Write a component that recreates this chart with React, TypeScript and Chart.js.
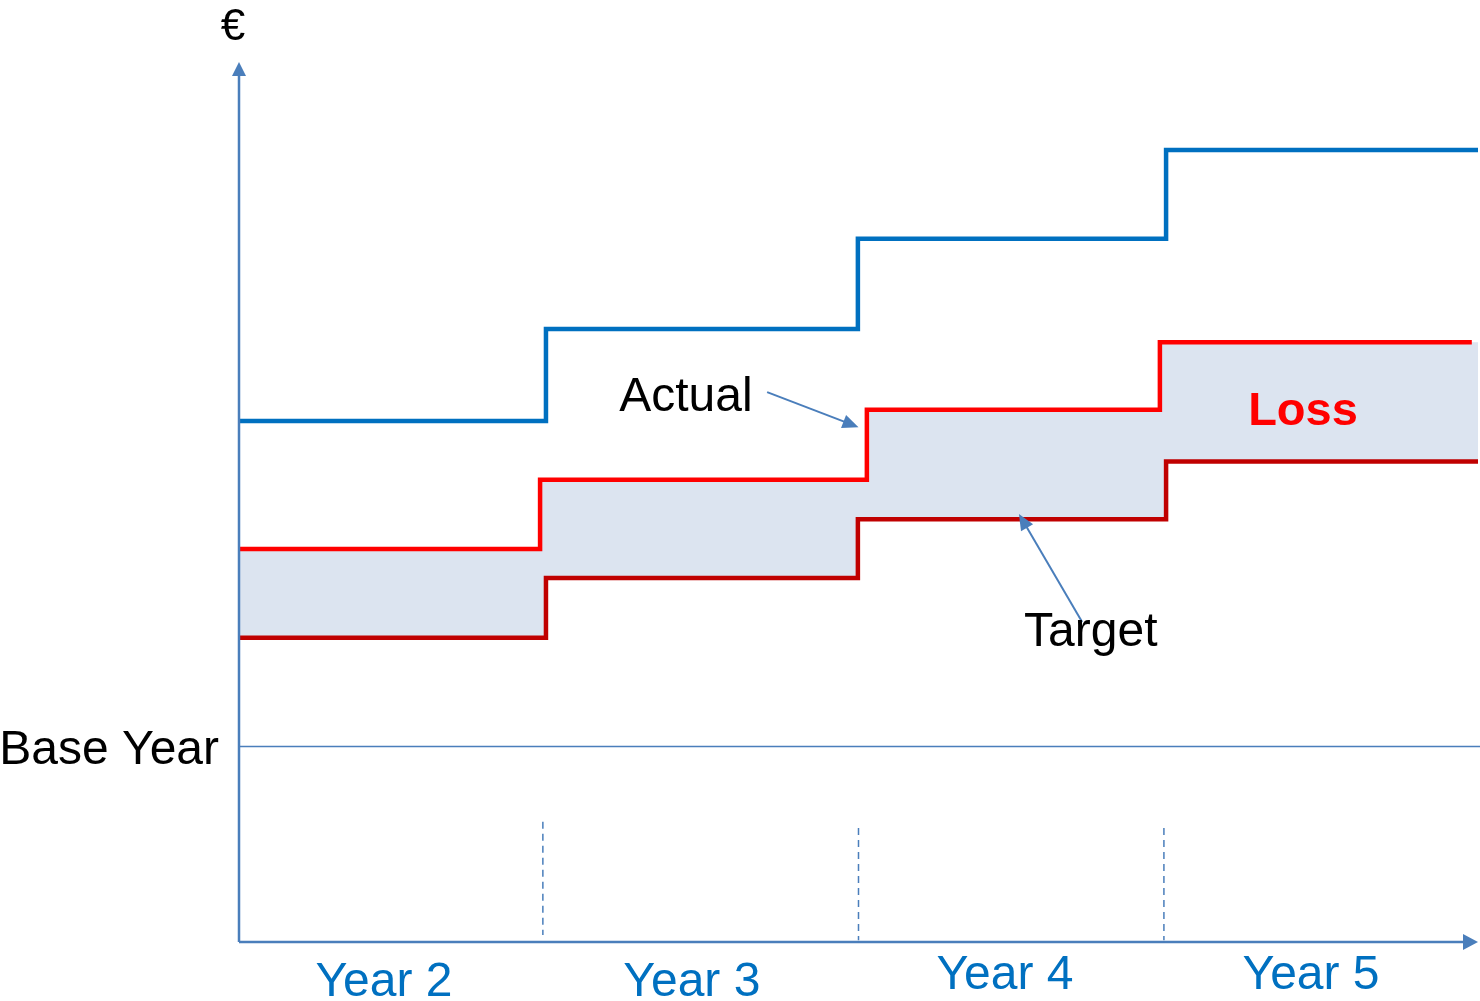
import React, { useEffect, useRef } from "react";
import { Chart, registerables } from "chart.js";

Chart.register(...registerables);

// Year segments along the horizontal axis (0 = start of Year 2, 4 = end of Year 5)
const yearLabels = ["Year 2", "Year 3", "Year 4", "Year 5"];

// Step positions (x) and levels (y) for each series
const upperSteps = [0, 0.991, 1.998, 2.993, 4];
const upperValues = [59.4, 69.9, 80.2, 90.3, 90.3];

const actualSteps = [0, 0.972, 2.027, 2.973, 3.98];
const actualValues = [44.8, 52.7, 60.7, 68.4, 68.4];

const targetSteps = [0, 0.991, 1.998, 2.993, 4];
const targetValues = [34.7, 41.5, 48.2, 54.8, 54.8];

// Shaded loss band: same levels as Actual, running to the right edge
const bandSteps = [0, 0.972, 2.027, 2.973, 4];
const bandValues = [44.8, 52.7, 60.7, 68.4, 68.4];

const baseYearValue = 22.3;

// Dashed year separators: x and vertical extent
const dividerX = [0.981, 2.0, 2.986];
const dividerTop = [13.7, 13.0, 13.0];
const dividerBottom = [0.8, 0.2, 0.2];

const FONT = '"Liberation Sans", Arial, Helvetica, sans-serif';
const AXIS_COLOR = "#4A7EBB";
const BLUE = "#0070C0";
const RED = "#FF0000";
const DARK_RED = "#C00000";
const BAND = "#DCE4F0";

const toPoints = (xs: number[], ys: number[]) => xs.map((x, i) => ({ x, y: ys[i] }));

function arrowHead(ctx: CanvasRenderingContext2D, fx: number, fy: number, tx: number, ty: number, len: number, half: number) {
  const a = Math.atan2(ty - fy, tx - fx);
  const bx = tx - len * Math.cos(a);
  const by = ty - len * Math.sin(a);
  ctx.beginPath();
  ctx.moveTo(tx, ty);
  ctx.lineTo(bx + half * Math.sin(a), by - half * Math.cos(a));
  ctx.lineTo(bx - half * Math.sin(a), by + half * Math.cos(a));
  ctx.closePath();
  ctx.fill();
}

function arrow(ctx: CanvasRenderingContext2D, fx: number, fy: number, tx: number, ty: number, width: number, len: number, half: number) {
  const a = Math.atan2(ty - fy, tx - fx);
  ctx.lineWidth = width;
  ctx.beginPath();
  ctx.moveTo(fx, fy);
  ctx.lineTo(tx - (len - 2) * Math.cos(a), ty - (len - 2) * Math.sin(a));
  ctx.stroke();
  arrowHead(ctx, fx, fy, tx, ty, len, half);
}

const diagramPlugin = {
  id: "diagramDecor",
  beforeDatasetsDraw(chart: any) {
    const { ctx, chartArea, scales } = chart;
    const ys = scales.y;
    ctx.save();
    // Base year reference line
    const by = ys.getPixelForValue(baseYearValue);
    ctx.strokeStyle = AXIS_COLOR;
    ctx.lineWidth = 1.6;
    ctx.beginPath();
    ctx.moveTo(chartArea.left, by);
    ctx.lineTo(chart.width, by);
    ctx.stroke();
    ctx.restore();
  },
  afterDatasetsDraw(chart: any) {
    const { ctx, chartArea, scales } = chart;
    const xs = scales.x;
    const ys = scales.y;
    const px = (v: number) => xs.getPixelForValue(v);
    const py = (v: number) => ys.getPixelForValue(v);
    const left = chartArea.left;
    const bottom = chartArea.bottom;
    ctx.save();

    // Axes with arrowheads
    ctx.strokeStyle = AXIS_COLOR;
    ctx.fillStyle = AXIS_COLOR;
    ctx.lineWidth = 2.5;
    ctx.beginPath();
    ctx.moveTo(left, bottom);
    ctx.lineTo(left, chartArea.top + 8);
    ctx.stroke();
    arrowHead(ctx, left, bottom, left, chartArea.top - 3, 14, 7);

    ctx.beginPath();
    ctx.moveTo(left, bottom);
    ctx.lineTo(chartArea.right - 10, bottom);
    ctx.stroke();
    arrowHead(ctx, left, bottom, chartArea.right, bottom, 15, 8);

    // Callout arrows
    arrow(ctx, px(1.705), py(62.7), px(2.0), py(58.7), 2, 16, 7);
    arrow(ctx, px(2.722), py(36.5), px(2.518), py(48.8), 2, 16, 7);

    // Text
    ctx.textBaseline = "alphabetic";
    ctx.fillStyle = "#000000";
    ctx.font = `44px ${FONT}`;
    ctx.textAlign = "center";
    ctx.fillText("€", left - 6, chartArea.top - 25);

    ctx.font = `48px ${FONT}`;
    ctx.textAlign = "right";
    ctx.fillText("Base Year", left - 20, py(baseYearValue) + 18);

    ctx.textAlign = "center";
    ctx.fillText("Actual", px(1.443), py(60.5));
    ctx.fillText("Target", px(2.75), py(33.7));

    ctx.fillStyle = RED;
    ctx.font = `bold 47px ${FONT}`;
    ctx.fillText("Loss", px(3.435), py(59.0));

    // Year labels under the horizontal axis
    ctx.fillStyle = BLUE;
    ctx.font = `48px ${FONT}`;
    const labelX = [0.468, 1.462, 2.473, 3.461];
    const labelDrop = [54, 54, 47, 47];
    yearLabels.forEach((t, i) => {
      ctx.fillText(t, px(labelX[i]), bottom + labelDrop[i]);
    });
    ctx.restore();
  },
};

export default function App() {
  const canvasRef = useRef<HTMLCanvasElement | null>(null);

  useEffect(() => {
    if (!canvasRef.current) return;
    const dividerSets = dividerX.map((x, i) => ({
      type: "line" as const,
      data: [
        { x, y: dividerTop[i] },
        { x, y: dividerBottom[i] },
      ],
      borderColor: AXIS_COLOR,
      borderWidth: 1.5,
      borderDash: [7, 5],
      pointRadius: 0,
      fill: false,
    }));

    const chart = new Chart(canvasRef.current, {
      type: "line",
      data: {
        datasets: [
          {
            label: "Band",
            data: toPoints(bandSteps, bandValues),
            borderWidth: 0,
            borderColor: "rgba(0,0,0,0)",
            stepped: true,
            pointRadius: 0,
            backgroundColor: BAND,
            fill: { target: 2 },
            order: 4,
          },
          {
            label: "Actual",
            data: toPoints(actualSteps, actualValues),
            borderColor: RED,
            borderWidth: 4.5,
            stepped: true,
            pointRadius: 0,
            fill: false,
            borderCapStyle: "butt",
            borderJoinStyle: "miter",
            order: 1,
          },
          {
            label: "Target",
            data: toPoints(targetSteps, targetValues),
            borderColor: DARK_RED,
            borderWidth: 4.5,
            stepped: true,
            pointRadius: 0,
            fill: false,
            borderJoinStyle: "miter",
            order: 2,
          },
          {
            label: "Upper",
            data: toPoints(upperSteps, upperValues),
            borderColor: BLUE,
            borderWidth: 4.5,
            stepped: true,
            pointRadius: 0,
            fill: false,
            borderJoinStyle: "miter",
            order: 3,
          },
          ...dividerSets,
        ],
      },
      options: {
        responsive: false,
        animation: false,
        events: [],
        layout: { padding: { left: 239, right: 2, top: 65, bottom: 59 } },
        plugins: {
          legend: { display: false },
          tooltip: { enabled: false },
          filler: { drawTime: "beforeDatasetsDraw" },
        },
        scales: {
          x: { type: "linear", min: 0, max: 4, display: false },
          y: { type: "linear", min: 0, max: 100, display: false },
        },
      },
      plugins: [diagramPlugin],
    });
    return () => chart.destroy();
  }, []);

  return (
    <div style={{ position: "fixed", left: 0, top: 0, width: 1480, height: 1001, background: "#ffffff" }}>
      <canvas ref={canvasRef} width={1480} height={1001} style={{ display: "block" }} />
    </div>
  );
}
